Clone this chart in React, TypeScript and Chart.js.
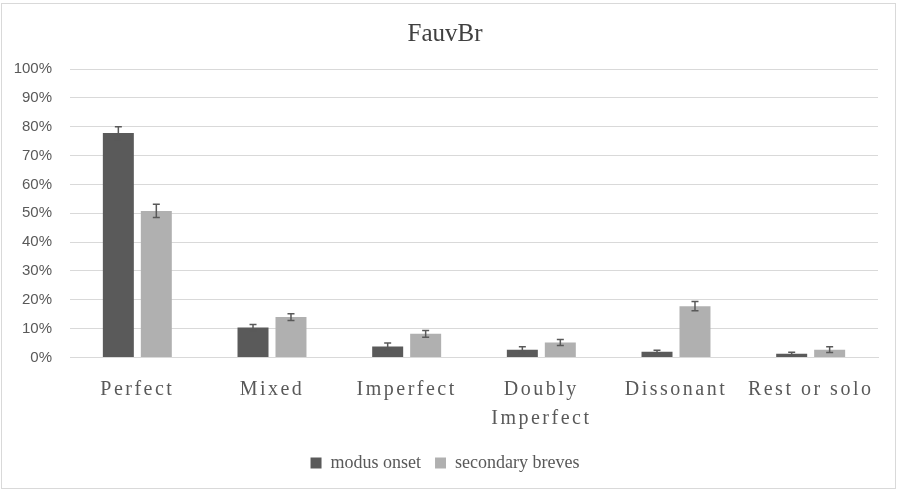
import React, { useEffect, useRef } from 'react';
import Chart from 'chart.js/auto';

const categories: (string | string[])[] = ['Perfect', 'Mixed', 'Imperfect', ['Doubly', 'Imperfect'], 'Dissonant', 'Rest or solo'];
const modusOnset = [77.8, 10.4, 3.8, 2.7, 2.0, 1.3];
const modusOnsetErr = [2.2, 1.0, 1.2, 1.0, 0.5, 0.5];
const secondaryBreves = [50.8, 14.0, 8.2, 5.2, 17.8, 2.7];
const secondaryBrevesErr = [2.3, 1.2, 1.2, 1.0, 1.6, 1.0];
const yTicks = [0, 10, 20, 30, 40, 50, 60, 70, 80, 90, 100];

const errors = [modusOnsetErr, secondaryBrevesErr];

// error bars + letter spacing for the category labels (drawn after datasets, z: 1)
const errorBarPlugin = {
    id: 'errorBars',
    beforeDraw(chart: any) {
        chart.ctx.letterSpacing = '0px';
    },
    afterDatasetsDraw(chart: any) {
        const ctx = chart.ctx;
        const y = chart.scales.y;
        ctx.save();
        ctx.strokeStyle = '#595959';
        ctx.lineWidth = 1.5;
        chart.data.datasets.forEach((ds: any, i: number) => {
            const meta = chart.getDatasetMeta(i);
            meta.data.forEach((bar: any, j: number) => {
                const v = ds.data[j];
                const e = errors[i][j];
                const top = y.getPixelForValue(v + e);
                const bot = y.getPixelForValue(Math.max(0, v - e));
                const x = bar.x;
                ctx.beginPath();
                ctx.moveTo(x, top);
                ctx.lineTo(x, bot);
                ctx.moveTo(x - 3.5, top);
                ctx.lineTo(x + 3.5, top);
                ctx.moveTo(x - 3.5, bot);
                ctx.lineTo(x + 3.5, bot);
                ctx.stroke();
            });
        });
        ctx.restore();
        ctx.letterSpacing = '2.5px';
    },
    afterDraw(chart: any) {
        chart.ctx.letterSpacing = '0px';
    },
};

const App: React.FC = () => {
    const canvasRef = useRef<HTMLCanvasElement>(null);

    useEffect(() => {
        document.body.style.margin = '0';
        if (!canvasRef.current) return;
        const ctx = canvasRef.current.getContext('2d');
        if (!ctx) return;

        const chart = new Chart(ctx, {
            type: 'bar',
            data: {
                labels: categories,
                datasets: [
                    {
                        label: 'modus onset',
                        data: modusOnset,
                        backgroundColor: '#5a5a5a',
                        categoryPercentage: 0.564,
                        barPercentage: 0.816,
                    },
                    {
                        label: 'secondary breves',
                        data: secondaryBreves,
                        backgroundColor: '#b0b0b0',
                        categoryPercentage: 0.564,
                        barPercentage: 0.816,
                    },
                ],
            },
            options: {
                responsive: true,
                maintainAspectRatio: false,
                animation: false,
                layout: {
                    padding: { top: 8, left: 12, right: 22, bottom: 12 },
                },
                scales: {
                    x: {
                        grid: { display: false, drawTicks: false },
                        border: { display: true, color: '#d9d9d9', width: 1 },
                        ticks: {
                            z: 1,
                            padding: 18,
                            color: '#595959',
                            font: { family: '"Liberation Serif", serif', size: 20, lineHeight: 1.45 },
                            maxRotation: 0,
                            autoSkip: false,
                        },
                        afterFit: (axis: any) => {
                            axis.height -= 11.5;
                        },
                    },
                    y: {
                        min: 0,
                        max: 100,
                        afterBuildTicks: (axis: any) => {
                            axis.ticks = yTicks.map((v) => ({ value: v }));
                        },
                        afterFit: (axis: any) => {
                            axis.width = 58;
                        },
                        grid: { color: '#d9d9d9', lineWidth: 1, drawTicks: false },
                        border: { display: false },
                        ticks: {
                            padding: 18,
                            color: '#595959',
                            font: { family: '"Liberation Sans", Arial, sans-serif', size: 15 },
                            callback: (v: any) => `${v}%`,
                        },
                    },
                },
                plugins: {
                    title: {
                        display: true,
                        text: 'FauvBr',
                        color: '#404040',
                        font: { family: '"Liberation Serif", serif', size: 25, weight: 'normal', lineHeight: 1.2 },
                        padding: { top: 11, bottom: 20 },
                    },
                    legend: {
                        position: 'bottom',
                        labels: {
                            boxWidth: 11,
                            boxHeight: 11,
                            padding: 14,
                            color: '#595959',
                            font: { family: '"Liberation Serif", serif', size: 18 },
                        },
                    },
                    tooltip: { enabled: false },
                },
            },
            plugins: [errorBarPlugin],
        });

        return () => {
            chart.destroy();
        };
    }, []);

    return (
        <div style={{ position: 'relative', width: 900, height: 494 }}>
            <div
                style={{
                    position: 'absolute',
                    left: 1,
                    top: 3,
                    width: 895,
                    height: 486,
                    border: '1px solid #d9d9d9',
                    boxSizing: 'border-box',
                }}
            />
            <div style={{ position: 'absolute', left: 0, top: 0, width: 900, height: 494 }}>
                <canvas ref={canvasRef}></canvas>
            </div>
        </div>
    );
};

export default App;
